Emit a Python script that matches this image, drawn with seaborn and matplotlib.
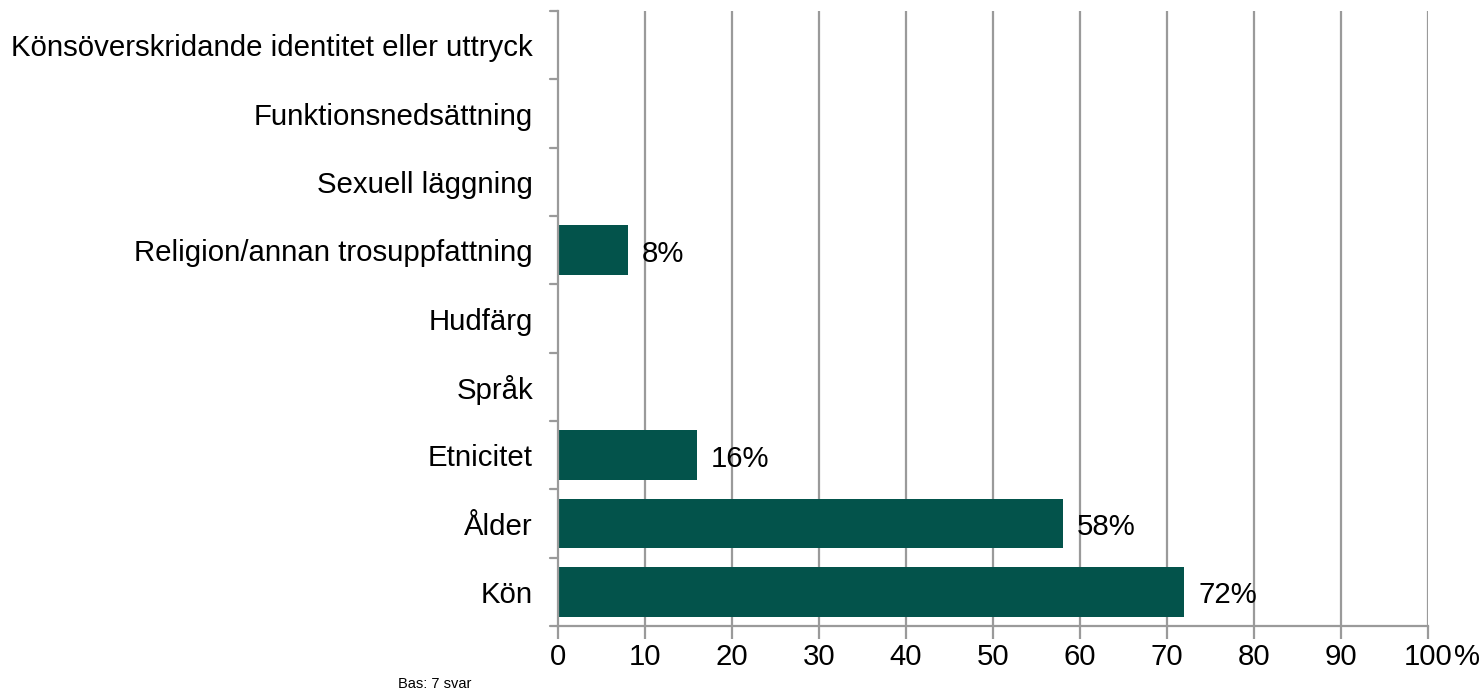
import matplotlib
matplotlib.use("Agg")
import matplotlib.pyplot as plt
import seaborn as sns
import pandas as pd

categories = [
    "Könsöverskridande identitet eller uttryck",
    "Funktionsnedsättning",
    "Sexuell läggning",
    "Religion/annan trosuppfattning",
    "Hudfärg",
    "Språk",
    "Etnicitet",
    "Ålder",
    "Kön",
]
values = [0, 0, 0, 8, 0, 0, 16, 58, 72]
x_ticks = [0, 10, 20, 30, 40, 50, 60, 70, 80, 90, 100]
x_tick_labels = ["0", "10", "20", "30", "40", "50", "60", "70", "80", "90", "100"]
x_unit = "%"
base_note = "Bas: 7 svar"

sns.set_theme(style="white")
plt.rcParams["font.family"] = ["Liberation Sans", "DejaVu Sans"]

df = pd.DataFrame({"kategori": categories, "andel": values})

fig = plt.figure(figsize=(14.83, 6.93), dpi=100)
ax = fig.add_axes([0.3763, 0.0967, 0.5866, 0.8873])

bar_color = "#03534B"
sns.barplot(data=df, x="andel", y="kategori", orient="h", color=bar_color,
            saturation=1, width=0.73, linewidth=0, edgecolor="none", ax=ax)

ax.set_xlim(0, 100)
ax.set_ylim(len(categories) - 0.5, -0.5)
ax.set_xlabel("")
ax.set_ylabel("")

fs = 21.2
text_color = "#000000"
grid_color = "#9a9a9a"
tick_len = 9
tick_pad = 3
ax.set_xticks(x_ticks)
ax.set_xticklabels(x_tick_labels, fontsize=fs, color=text_color)
for xv in x_ticks[1:]:
    ax.axvline(xv, color=grid_color, lw=1.6, zorder=0)

# unit sign trailing the last x tick label
fig.canvas.draw()
last = ax.get_xticklabels()[-1]
half_w = last.get_window_extent().width / 2 * 72 / fig.dpi
ax.annotate(x_unit, xy=(x_ticks[-1], 0), xycoords=ax.get_xaxis_transform(),
            xytext=(half_w + 1, -(tick_len + tick_pad)), textcoords="offset points",
            ha="left", va="top", fontsize=fs, color=text_color,
            annotation_clip=False)

# category boundary ticks on the y axis
ax.set_yticks(range(len(categories)))
ax.set_yticklabels(categories, fontsize=fs, color=text_color)
ax.tick_params(axis="y", length=0, pad=18)
for b in [i - 0.5 for i in range(len(categories) + 1)]:
    ax.plot([-0.009, 0], [b, b], color=grid_color, lw=1.6,
            transform=ax.get_yaxis_transform(), clip_on=False)

ax.tick_params(axis="x", length=tick_len, width=1.6, color=grid_color,
               pad=tick_pad, direction="out", bottom=True)

for side in ["top", "right"]:
    ax.spines[side].set_visible(False)
for side in ["left", "bottom"]:
    ax.spines[side].set_color(grid_color)
    ax.spines[side].set_linewidth(1.6)

for i, v in enumerate(values):
    if v > 0:
        ax.text(v + 1.6, i + 0.05, f"{v}%", va="center", ha="left", fontsize=fs,
                color=text_color)

fig.text(398 / 1483, 1 - 684 / 693, base_note, fontsize=10.5, va="center",
         ha="left", color=text_color)

fig.savefig("out.png", dpi=100)
